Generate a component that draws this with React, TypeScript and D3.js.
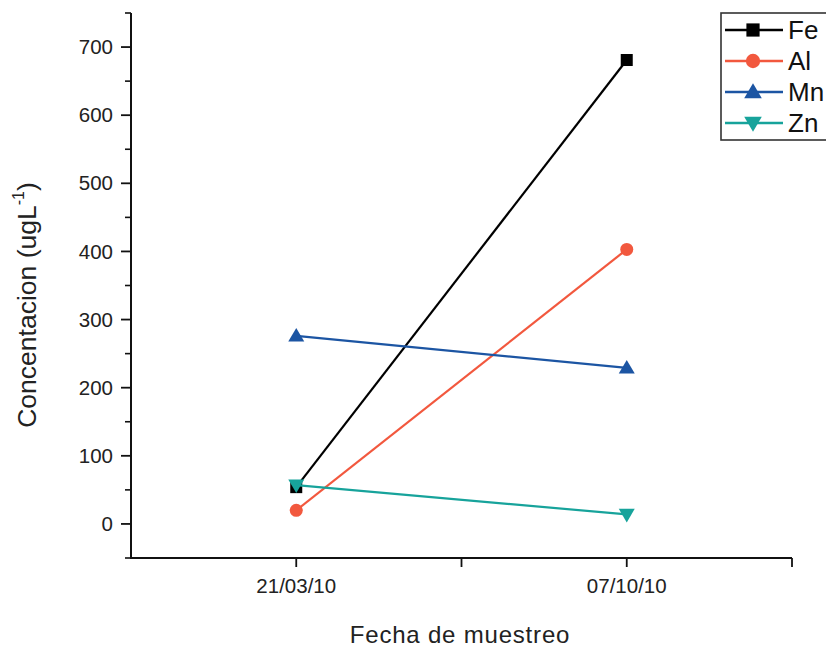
import React from "react";
import * as d3 from "d3";

// Sampling dates (x positions 1 and 2)
const dates = ["21/03/10", "07/10/10"];
const datePos = [1, 2];

// Concentrations (ug/L) per element
const feValues = [54, 681];
const alValues = [20, 403];
const mnValues = [276, 229];
const znValues = [57, 14];

const seriesNames = ["Fe", "Al", "Mn", "Zn"];
const seriesColors = ["#000000", "#f2583e", "#1c55a3", "#17a39b"];
const seriesSymbols = ["square", "circle", "triangleUp", "triangleDown"];

const yMajorTicks = [0, 100, 200, 300, 400, 500, 600, 700];
const yMinorTicks = [-50, 50, 150, 250, 350, 450, 550, 650, 750];
const xTicks = [1, 1.5, 2, 2.5];

const W = 826;
const H = 648;
const FONT = "'Liberation Sans', Arial, Helvetica, sans-serif";

function Marker({ kind, x, y, color, size = 1 }: { kind: string; x: number; y: number; color: string; size?: number }) {
  if (kind === "square") {
    const h = 6 * size;
    return <rect x={x - h} y={y - h} width={2 * h} height={2 * h} fill={color} />;
  }
  if (kind === "circle") {
    return <circle cx={x} cy={y} r={6.5 * size} fill={color} />;
  }
  const up = kind === "triangleUp";
  const s = 8 * size;
  const pts = up
    ? [[x, y - s], [x + s, y + s * 0.7], [x - s, y + s * 0.7]]
    : [[x, y + s], [x + s, y - s * 0.7], [x - s, y - s * 0.7]];
  return <polygon points={pts.map((p) => p.join(",")).join(" ")} fill={color} />;
}

export default function App() {
  const x = d3.scaleLinear().domain([0.5, 2.5]).range([131, 792]);
  const y = d3.scaleLinear().domain([-50, 750]).range([558, 13]);

  const allValues = [feValues, alValues, mnValues, znValues];
  const line = d3
    .line<number>()
    .x((_, i) => x(datePos[i]))
    .y((v) => y(v));

  const legendX = 721;
  const legendRows = [30, 61, 92, 123];

  return (
    <svg
      width={W}
      height={H}
      style={{ position: "absolute", left: 0, top: 0, background: "#fff" }}
      fontFamily={FONT}
    >
      {/* y axis */}
      <line x1={x(0.5)} x2={x(0.5)} y1={y(750)} y2={y(-50)} stroke="#111" strokeWidth={2} />
      {yMajorTicks.map((t) => (
        <g key={"ym" + t}>
          <line x1={x(0.5) - 10} x2={x(0.5)} y1={y(t)} y2={y(t)} stroke="#111" strokeWidth={1.8} />
          <text x={x(0.5) - 18} y={y(t)} dy="0.35em" textAnchor="end" fontSize={20.5} fill="#222">
            {t}
          </text>
        </g>
      ))}
      {yMinorTicks.map((t) => (
        <line key={"yn" + t} x1={x(0.5) - 6} x2={x(0.5)} y1={y(t)} y2={y(t)} stroke="#111" strokeWidth={1.6} />
      ))}

      {/* x axis */}
      <line x1={x(0.5) - 1} x2={x(2.5)} y1={y(-50)} y2={y(-50)} stroke="#111" strokeWidth={2} />
      {xTicks.map((t) => (
        <line key={"xt" + t} x1={x(t)} x2={x(t)} y1={y(-50)} y2={y(-50) + 9} stroke="#111" strokeWidth={1.8} />
      ))}
      {dates.map((d, i) => (
        <text key={d} x={x(datePos[i])} y={593} textAnchor="middle" fontSize={20.5} fill="#222">
          {d}
        </text>
      ))}

      {/* axis titles */}
      <text x={460} y={643} textAnchor="middle" fontSize={24} letterSpacing={0.8} fill="#222">
        Fecha de muestreo
      </text>
      <text
        transform="translate(36,305) rotate(-90)"
        textAnchor="middle"
        fontSize={26.5}
        fill="#222"
      >
        Concentacion (ugL
        <tspan fontSize={16} dy={-12}>-1</tspan>
        <tspan dy={12}>)</tspan>
      </text>

      {/* series */}
      {allValues.map((vals, si) => (
        <g key={seriesNames[si]}>
          <path d={line(vals) || ""} fill="none" stroke={seriesColors[si]} strokeWidth={2.2} />
          {vals.map((v, i) => (
            <Marker key={i} kind={seriesSymbols[si]} x={x(datePos[i])} y={y(v)} color={seriesColors[si]} />
          ))}
        </g>
      ))}

      {/* legend */}
      <rect x={legendX} y={13} width={120} height={127} fill="#fff" stroke="#333" strokeWidth={1.6} />
      {seriesNames.map((name, i) => (
        <g key={"lg" + name}>
          <line x1={725} x2={783} y1={legendRows[i]} y2={legendRows[i]} stroke={seriesColors[i]} strokeWidth={2.6} />
          <Marker kind={seriesSymbols[i]} x={753} y={legendRows[i]} color={seriesColors[i]} size={1.1} />
          <text x={788} y={legendRows[i]} dy="0.36em" fontSize={26} fill="#111">
            {name}
          </text>
        </g>
      ))}
    </svg>
  );
}
